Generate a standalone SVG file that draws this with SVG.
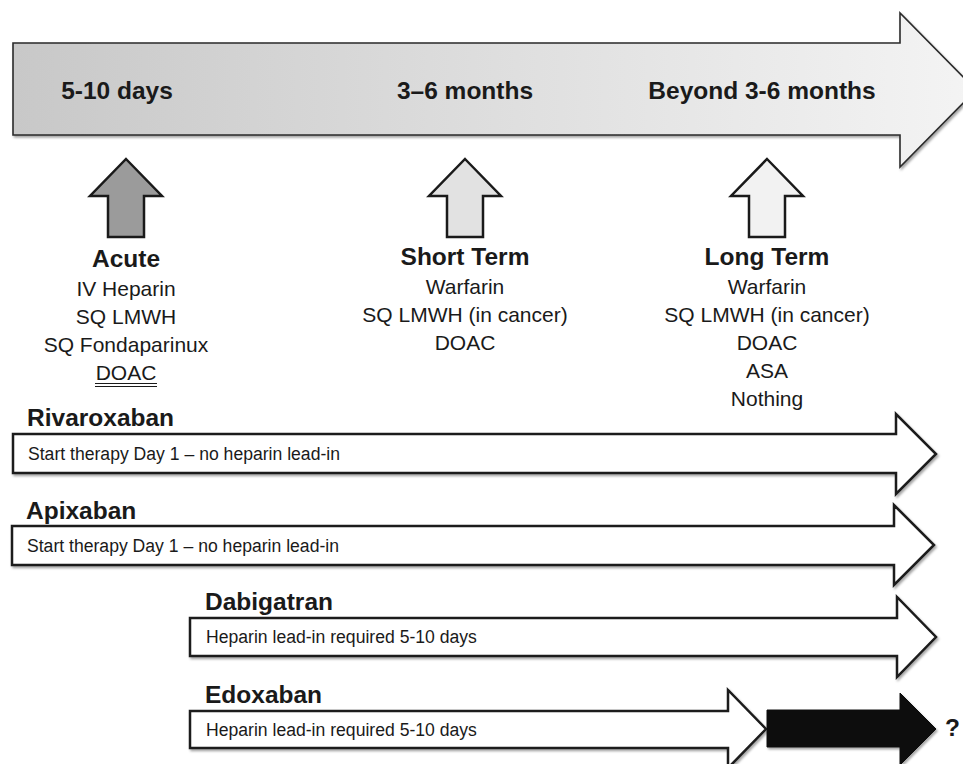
<svg xmlns="http://www.w3.org/2000/svg" width="963" height="764" viewBox="0 0 963 764">
<defs>
<linearGradient id="timeGrad" x1="13" y1="0" x2="977" y2="0" gradientUnits="userSpaceOnUse">
<stop offset="0" stop-color="#c8c8c8"/>
<stop offset="1" stop-color="#f4f4f4"/>
</linearGradient>
<filter id="shadow" x="-5%" y="-20%" width="110%" height="140%">
<feDropShadow dx="1.5" dy="2" stdDeviation="1.2" flood-color="#000" flood-opacity="0.35"/>
</filter>
</defs>
<style>
text{font-family:"Liberation Sans",Arial,Helvetica,sans-serif;fill:#1a1a1a}
.b{font-weight:bold;font-size:24.5px}
.r{font-size:21px}
.s{font-size:17.6px}
.mid{text-anchor:middle}
.arr{stroke:#1a1a1a;stroke-width:2.5;stroke-linejoin:miter}
.up{stroke:#1a1a1a;stroke-width:2.5;stroke-linejoin:miter}
</style>
<rect width="963" height="764" fill="#ffffff"/>

<g id="timeline">
<path d="M13,43 H900 V13 L976,90 L900,167 V135 H13 Z" fill="url(#timeGrad)" stroke="#2a2a2a" stroke-width="1.6" filter="url(#shadow)"/>
<text class="b mid" x="117" y="99">5-10 days</text>
<text class="b mid" x="465" y="99">3–6 months</text>
<text class="b mid" x="762" y="99">Beyond 3-6 months</text>
</g>

<g id="acute">
<path class="up" d="M126,159 L162,196 H144 V237 H108 V196 H90 Z" fill="#9b9b9b"/>
<text class="b mid" x="126" y="267">Acute</text>
<text class="r mid" x="126" y="296">IV Heparin</text>
<text class="r mid" x="126" y="324">SQ LMWH</text>
<text class="r mid" x="126" y="352">SQ Fondaparinux</text>
<text class="r mid" x="126" y="380">DOAC</text>
<line x1="95" y1="383.5" x2="157" y2="383.5" stroke="#1a1a1a" stroke-width="1"/>
<line x1="95" y1="386.5" x2="157" y2="386.5" stroke="#1a1a1a" stroke-width="1"/>
</g>

<g id="short-term">
<path class="up" d="M465,159 L501,196 H483 V237 H447 V196 H429 Z" fill="#e2e2e2"/>
<text class="b mid" x="465" y="265">Short Term</text>
<text class="r mid" x="465" y="294">Warfarin</text>
<text class="r mid" x="465" y="322">SQ LMWH (in cancer)</text>
<text class="r mid" x="465" y="350">DOAC</text>
</g>

<g id="long-term">
<path class="up" d="M767,159 L803,196 H785 V237 H749 V196 H731 Z" fill="#f2f2f2"/>
<text class="b mid" x="767" y="265">Long Term</text>
<text class="r mid" x="767" y="294">Warfarin</text>
<text class="r mid" x="767" y="322">SQ LMWH (in cancer)</text>
<text class="r mid" x="767" y="350">DOAC</text>
<text class="r mid" x="767" y="378">ASA</text>
<text class="r mid" x="767" y="406">Nothing</text>
</g>

<g id="rivaroxaban">
<text class="b" x="27" y="426">Rivaroxaban</text>
<path class="arr" d="M13,434 H896 V414 L936,454 L896,494 V473 H13 Z" fill="#ffffff" filter="url(#shadow)"/>
<text class="s" x="28" y="460">Start therapy Day 1 – no heparin lead-in</text>
</g>

<g id="apixaban">
<text class="b" x="26" y="519">Apixaban</text>
<path class="arr" d="M12,526 H894 V505 L934,545 L894,585 V565 H12 Z" fill="#ffffff" filter="url(#shadow)"/>
<text class="s" x="27" y="552">Start therapy Day 1 – no heparin lead-in</text>
</g>

<g id="dabigatran">
<text class="b" x="205" y="610">Dabigatran</text>
<path class="arr" d="M190,618 H897 V597 L936,637 L897,677 V656 H190 Z" fill="#ffffff" filter="url(#shadow)"/>
<text class="s" x="206" y="643">Heparin lead-in required 5-10 days</text>
</g>

<g id="edoxaban">
<text class="b" x="205" y="703">Edoxaban</text>
<path class="arr" d="M190,711 H728 V690 L766,729 L728,768 V748 H190 Z" fill="#ffffff" filter="url(#shadow)"/>
<text class="s" x="206" y="736">Heparin lead-in required 5-10 days</text>
</g>

<g id="edoxaban-unknown">
<path d="M767,710 H900 V693 L936,729 L900,765 V747 H767 Z" fill="#111111" stroke="#111111" stroke-width="1" filter="url(#shadow)"/>
<text class="b" x="945" y="736">?</text>
</g>
</svg>
